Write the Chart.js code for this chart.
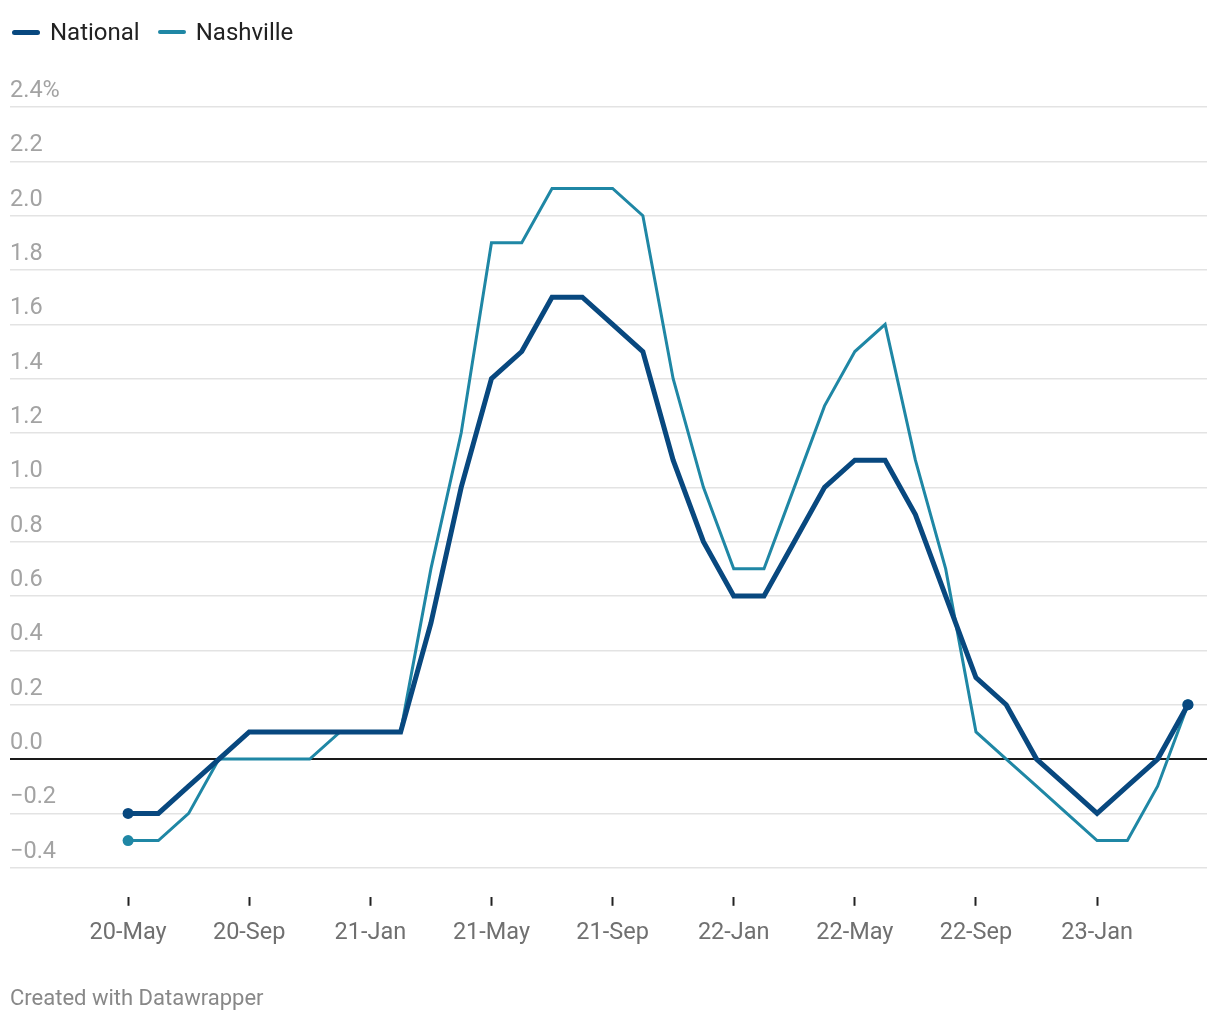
<!DOCTYPE html>
<html>
<head>
<meta charset="utf-8">
<script src="https://cdn.jsdelivr.net/npm/chart.js@4"></script>
<style>
  body { margin: 0; background: #fff; font-family: Roboto, sans-serif; }
  #wrap { position: relative; width: 1220px; height: 1020px; }
  #legend { position: absolute; left: 12px; top: 18px; display: flex; align-items: center; font-size: 24px; color: #222; }
  .key { display: flex; align-items: center; margin-right: 18px; }
  .swatch { display: inline-block; width: 28px; border-radius: 3px; margin-right: 10px; }
  #footer { position: absolute; left: 10px; top: 985px; font-size: 22px; color: #888; }
  canvas { position: absolute; left: 0; top: 0; }
</style>
</head>
<body>
<div id="wrap">
  <canvas id="chart" width="1220" height="1020"></canvas>
  <div id="legend">
    <span class="key"><span class="swatch" style="height:5px;background:#08487f"></span>National</span>
    <span class="key"><span class="swatch" style="height:3.5px;background:#1f87a5"></span>Nashville</span>
  </div>
  <div id="footer">Created with Datawrapper</div>
</div>
<script>
// months, May 2020 .. Apr 2023
const months = ['20-May','20-Jun','20-Jul','20-Aug','20-Sep','20-Oct','20-Nov','20-Dec',
    '21-Jan','21-Feb','21-Mar','21-Apr','21-May','21-Jun','21-Jul','21-Aug','21-Sep','21-Oct','21-Nov','21-Dec',
    '22-Jan','22-Feb','22-Mar','22-Apr','22-May','22-Jun','22-Jul','22-Aug','22-Sep','22-Oct','22-Nov','22-Dec',
    '23-Jan','23-Feb','23-Mar','23-Apr'];

const national = [-0.2,-0.2,-0.1,0.0,0.1,0.1,0.1,0.1,0.1,0.1,0.5,1.0,1.4,1.5,1.7,1.7,1.6,1.5,
    1.1,0.8,0.6,0.6,0.8,1.0,1.1,1.1,0.9,0.6,0.3,0.2,0.0,-0.1,-0.2,-0.1,0.0,0.2];
const nashville = [-0.3,-0.3,-0.2,0.0,0.0,0.0,0.0,0.1,0.1,0.1,0.7,1.2,1.9,1.9,2.1,2.1,2.1,2.0,
    1.4,1.0,0.7,0.7,1.0,1.3,1.5,1.6,1.1,0.7,0.1,0.0,-0.1,-0.2,-0.3,-0.3,-0.1,0.2];

const tickLabels = ['20-May','20-Sep','21-Jan','21-May','21-Sep','22-Jan','22-May','22-Sep','23-Jan'];
const yTicks = [-0.4,-0.2,0,0.2,0.4,0.6,0.8,1.0,1.2,1.4,1.6,1.8,2.0,2.2,2.4];

const toPoints = arr => arr.map((v, i) => ({ x: i, y: v }));
const endDot = r => c => (c.dataIndex === 0 || c.dataIndex === months.length - 1) ? r : 0;

const ctx = document.getElementById('chart');
new Chart(ctx, {
    type: 'line',
    data: {
        datasets: [
        {   // thick dark line
            label: 'National',
            data: toPoints(national),
            borderColor: '#08487f',
            backgroundColor: '#08487f',
            borderWidth: 5,
            pointRadius: endDot(5.5),
            pointBorderWidth: 0,
            order: 0
        },
        {   // thin teal line
            label: 'Nashville',
            data: toPoints(nashville),
            borderColor: '#1f87a5',
            backgroundColor: '#1f87a5',
            borderWidth: 3,
            pointRadius: endDot(5.5),
            pointBorderWidth: 0,
            order: 1
        }
        ]
    },
    options: {
        responsive: false,
        animation: false,
        layout: { padding: { left: 10, right: 13, top: 107, bottom: 60 } },
        plugins: { legend: { display: false }, tooltip: { enabled: false } },
        elements: { line: { tension: 0, borderJoinStyle: 'miter' } },
        scales: {
            x: {
                type: 'linear',
                min: -3.9,
                max: 35.63,
                afterBuildTicks: axis => { axis.ticks = tickLabels.map(l => ({ value: months.indexOf(l) })); },
                ticks: {
                    autoSkip: false,
                    maxRotation: 0,
                    padding: 13,
                    color: '#707070',
                    font: { family: 'Roboto', size: 23.5 },
                    callback: v => months[v]
                },
                grid: { drawOnChartArea: false, tickLength: 9, tickWidth: 2, tickColor: '#222' },
                border: { display: false }
            },
            y: {
                min: -0.507,
                max: 2.4,
                afterBuildTicks: axis => { axis.ticks = yTicks.map(v => ({ value: v })); },
                ticks: {
                    mirror: true,
                    padding: 0,
                    labelOffset: -16,
                    color: '#a3a3a3',
                    font: { family: 'Roboto', size: 23.5 },
                    callback: v => {
                        const s = Math.abs(v).toFixed(1);
                        if (v === 2.4) return s + '%';
                        return v < 0 ? '\u2212' + s : s;
                    }
                },
                grid: {
                    drawTicks: false,
                    color: c => c.tick.value === 0 ? '#1a1a1a' : '#e3e3e3',
                    lineWidth: c => c.tick.value === 0 ? 2 : 1.5
                },
                border: { display: false }
            }
        }
    }
});
</script>
</body>
</html>
